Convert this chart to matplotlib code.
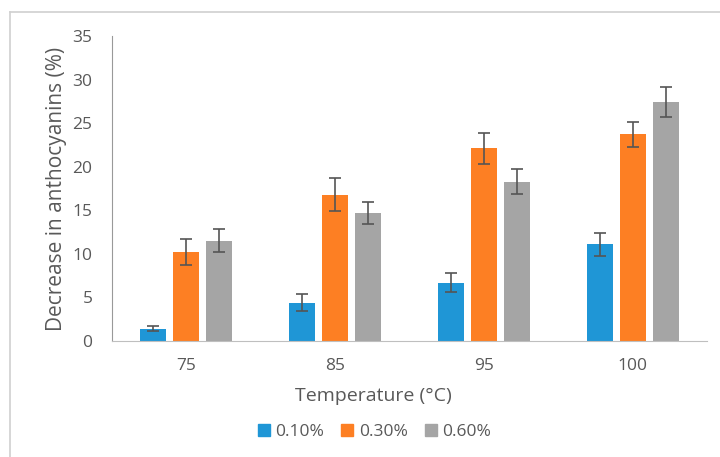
import numpy as np
import matplotlib.pyplot as plt
from matplotlib.lines import Line2D
from matplotlib.patches import Patch

temps = ['75', '85', '95', '100']
series = ['0.10%', '0.30%', '0.60%']
colors = ['#1f96d6', '#fd7f23', '#a5a5a5']

# decrease in anthocyanins (%) per concentration
vals_010 = [1.4, 4.4, 6.7, 11.1]
vals_030 = [10.2, 16.8, 22.1, 23.7]
vals_060 = [11.5, 14.7, 18.3, 27.4]
err_010 = [0.3, 1.0, 1.1, 1.35]
err_030 = [1.5, 1.9, 1.8, 1.4]
err_060 = [1.3, 1.3, 1.4, 1.7]

values = [vals_010, vals_030, vals_060]
errors = [err_010, err_030, err_060]

plt.rcParams['font.family'] = ['Open Sans', 'DejaVu Sans']
txt = '#595959'

fig = plt.figure(figsize=(7.2, 4.57), dpi=100)
ax = fig.add_axes([0.1556, 0.2538, 0.8264, 0.6674])

x = np.arange(len(temps))
w = 0.175
pitch = 0.222
for i in range(3):
    ax.bar(x + (i - 1) * pitch, values[i], w, color=colors[i],
           yerr=errors[i], capsize=4,
           error_kw=dict(ecolor='#555555', elinewidth=1.2, capthick=1.2),
           zorder=2)

ax.set_xlim(-0.5, len(temps) - 0.5)
ax.set_ylim(0, 35)
ax.set_yticks(range(0, 36, 5))
ax.set_xticks(x)
ax.set_xticklabels(temps)
ax.tick_params(length=0, labelsize=12.5, colors=txt)
ax.tick_params(axis='y', pad=14)
ax.tick_params(axis='x', pad=12)
for s in ['top', 'right']:
    ax.spines[s].set_visible(False)
ax.spines['left'].set_color('#999999')
ax.spines['bottom'].set_color('#bfbfbf')
ax.set_xlabel('Temperature (°C)', fontsize=14, color=txt)
ax.xaxis.set_label_coords(0.44, -0.15)
ax.set_ylabel('Decrease in anthocyanins (%)', fontsize=15, color=txt, labelpad=4)

handles = [Patch(color=c) for c in colors]
fig.legend(handles, series, loc='center', bbox_to_anchor=(0.52, 0.055),
           ncol=3, frameon=False, fontsize=12.5, handlelength=0.7,
           handleheight=0.7, handletextpad=0.3, columnspacing=1.0,
           labelcolor=txt)

# outer frame (top and left edges visible)
fig.add_artist(Line2D([10 / 720, 1], [1 - 12 / 457, 1 - 12 / 457],
                      color='#d0d0d0', lw=1.2, transform=fig.transFigure))
fig.add_artist(Line2D([10 / 720, 10 / 720], [0, 1 - 12 / 457],
                      color='#d0d0d0', lw=1.2, transform=fig.transFigure))

fig.savefig('out.png', dpi=100)
